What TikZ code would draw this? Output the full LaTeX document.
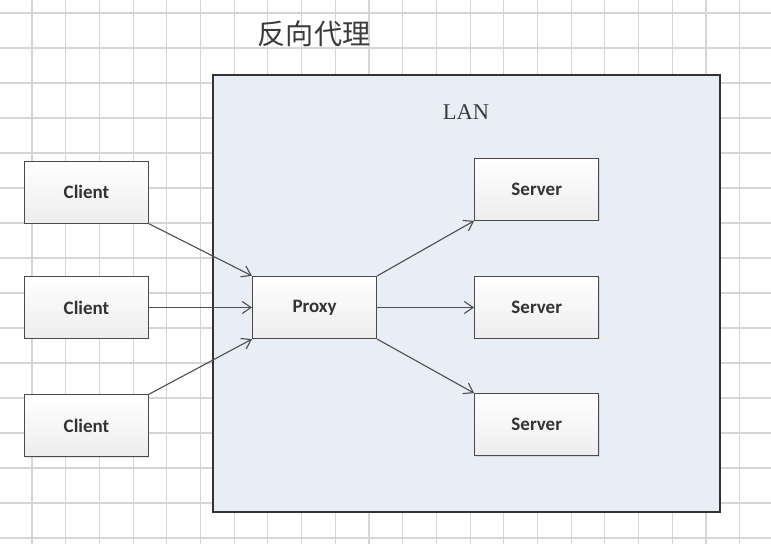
\documentclass[tikz,border=0pt]{standalone}
\usepackage{fontspec}
\setsansfont{Carlito}
\setmainfont{Liberation Serif}
\newfontfamily\cjkfont{Noto Sans CJK SC}
\usepackage{tikz}
\usetikzlibrary{arrows.meta,positioning,shadows}
\definecolor{gridgray}{HTML}{D6D6D6}
\definecolor{lanfill}{HTML}{E9EDF5}
\definecolor{boxline}{HTML}{4A4A4A}
\definecolor{boxshade}{HTML}{EDEDED}
\definecolor{linkline}{HTML}{505050}
\definecolor{labeltext}{HTML}{3A3A3A}
\tikzset{
  gridline/.style={gridgray, line width=0.8pt},
  lanbox/.style={draw=black!80, line width=1.1pt, fill=lanfill,
               minimum width=12.675cm, minimum height=10.925cm, inner sep=0pt},
  hostbox/.style={draw=boxline, line width=0.9pt, top color=white, bottom color=boxshade,
               minimum width=3.1cm, minimum height=1.55cm, inner sep=0pt,
               font=\sffamily\bfseries\fontsize{13.5}{15}\selectfont, text=black!80,
               drop shadow={opacity=0.2, shadow xshift=0.6pt, shadow yshift=-0.6pt}},
  link/.style={-{Straight Barb[length=2.2mm, width=3mm]}, line width=0.8pt, linkline},
}
\begin{document}
\begin{tikzpicture}[x=0.025cm, y=0.025cm, node distance=1.3cm and 2.5cm]
  \useasboundingbox (0,0) rectangle (771,544);

  % background grid
  \foreach \gx in {0,...,22}
    \draw[gridline] ({-1.7+33.7*\gx},0) -- ++(0,544);
  \foreach \gy in {0,...,15}
    \draw[gridline] (0,{531-35*\gy}) -- ++(771,0);

  \node[lanbox] (lan) at (466.5,250.5) {};
  \node[font=\cjkfont\fontsize{20}{24}\selectfont, text=labeltext] (title) at (314,510) {反向代理};
  \node[font=\rmfamily\fontsize{16}{19}\selectfont, text=labeltext] (lantag) at (466,432) {LAN};

  \node[hostbox] (client2) at (86.5,236.5) {Client};
  \node[hostbox, above=1.3cm of client2] (client1) {Client};
  \node[hostbox, below=1.375cm of client2] (client3) {Client};
  \node[hostbox, right=2.57cm of client2] (proxy) {Proxy};
  \node[hostbox, right=2.42cm of proxy] (server2) {Server};
  \node[hostbox, above=1.375cm of server2] (server1) {Server};
  \node[hostbox, below=1.35cm of server2] (server3) {Server};

  \draw[link] (client1.south east) -- (proxy.north west);
  \draw[link] (client2) -- (proxy);
  \draw[link] (client3.north east) -- (proxy.south west);
  \draw[link] (proxy.north east) -- (server1.south west);
  \draw[link] (proxy) -- (server2);
  \draw[link] (proxy.south east) -- (server3.north west);

\end{tikzpicture}
\end{document}
